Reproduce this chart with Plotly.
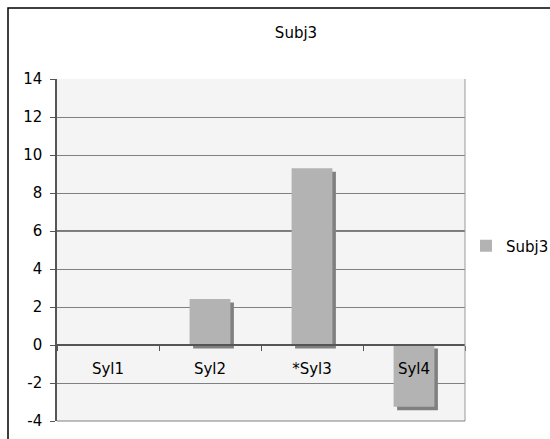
import plotly.graph_objects as go

categories = ["Syl1", "Syl2", "*Syl3", "Syl4"]
values = [0, 2.42, 9.3, -3.25]
series_name = "Subj3"
title_text = "Subj3"
y_ticks = [-4, -2, 0, 2, 4, 6, 8, 10, 12, 14]
y_tick_text = ["-4", "-2", "0", "2", "4", "6", "8", "10", "12", "14"]

FONT = "DejaVu Sans, Verdana, sans-serif"
FS = 15
BAR = "#b3b3b3"
SHADOW = "#808080"

# layout geometry (px)
L, R, T, B = 57, 85, 79, 18
W, H = 550, 439
pw, ph = W - L - R, H - T - B
ymin, ymax = -4, 14
px_per_unit = ph / (ymax - ymin)
cat_px = pw / len(categories)
dx = 3.5 / cat_px
dy = 3.5 / px_per_unit

fig = go.Figure()
# shadow
fig.add_trace(go.Bar(
    x=categories, y=values, base=[-dy] * len(values),
    width=0.4, offset=-0.2 + dx,
    marker=dict(color=SHADOW, line=dict(width=0)),
    showlegend=False, hoverinfo="skip",
))
fig.add_trace(go.Bar(
    x=categories, y=values, name=series_name,
    width=0.4, offset=-0.2,
    marker=dict(color=BAR, line=dict(width=0)),
))

zero_pos = (0 - ymin) / (ymax - ymin)

fig.update_layout(
    width=W, height=H,
    margin=dict(l=L, r=R, t=T, b=B, autoexpand=False),
    barmode="overlay",
    paper_bgcolor="white",
    plot_bgcolor="#f4f4f4",
    font=dict(family=FONT, size=FS, color="black"),
    title=dict(text=title_text, x=296 / W, xanchor="center", y=1 - 33 / H, yanchor="middle",
               font=dict(family=FONT, size=FS, color="black")),
    showlegend=True,
    legend=dict(xref="container", yref="container",
                x=466 / W, xanchor="left", y=1 - 246 / H, yanchor="middle",
                font=dict(family=FONT, size=FS), bgcolor="rgba(0,0,0,0)",
                itemwidth=30),
    xaxis=dict(
        type="category", anchor="free", position=zero_pos,
        showline=True, linecolor="#555555", linewidth=1.5,
        ticks="outside", ticklen=5, tickcolor="#555555", tickson="boundaries",
        ticklabelstandoff=10,
        showgrid=False, tickfont=dict(family=FONT, size=FS),
        range=[-0.5, 3.5], fixedrange=True,
    ),
    yaxis=dict(
        range=[ymin, ymax], tickvals=y_ticks, ticktext=y_tick_text,
        showline=True, linecolor="#555555", linewidth=1.5, mirror=False,
        ticks="outside", ticklen=5, tickcolor="#555555", ticklabelstandoff=5,
        showgrid=True, gridcolor="#808080", gridwidth=1,
        zeroline=False, tickfont=dict(family=FONT, size=FS),
    ),
    shapes=[
        # outer chart frame (left and top edges visible)
        dict(type="rect", xref="paper", yref="paper",
             x0=(8 - L) / pw, x1=(560 - L) / pw,
             y0=-0.2, y1=1 + (T - 8) / ph,
             line=dict(color="black", width=1.5), layer="below"),
        # right edge of plot area
        dict(type="line", xref="paper", yref="paper", x0=1, x1=1, y0=0, y1=1,
             line=dict(color="#999999", width=1)),
        dict(type="line", xref="paper", yref="paper", x0=0, x1=1, y0=0, y1=0,
             line=dict(color="#808080", width=1)),
        # darker gridline at 6 as in the reference
        dict(type="line", xref="paper", yref="y", x0=0, x1=1, y0=6, y1=6,
             line=dict(color="black", width=1), layer="below"),
    ],
)

fig.write_html(
    "out.html",
    config={"displayModeBar": False},
    post_script="document.body.style.margin='0';document.body.style.overflow='hidden';",
)
